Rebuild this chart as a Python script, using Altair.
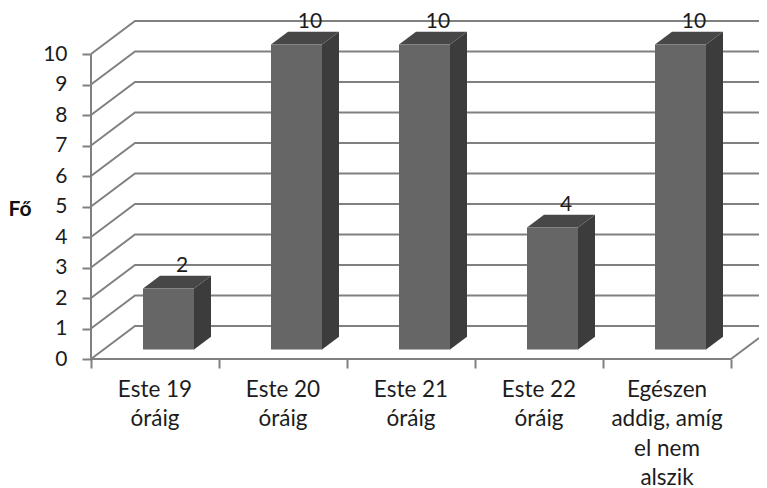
import altair as alt
import pandas as pd

categories = ["Este 19\nóráig", "Este 20\nóráig", "Este 21\nóráig", "Este 22\nóráig",
              "Egészen\naddig, amíg\nel nem\nalszik"]
values = [2, 10, 10, 4, 10]
y_ticks = list(range(0, 11))
x_ticks = list(range(0, 6))
value_labels = ["2", "10", "10", "4", "10"]
y_title = "Fő"

PX_X, PX_Y = 128.0, 30.5          # pixels per band / per unit
W, H = 668, 339
X_MAX, Y_MAX = W / PX_X, H / PX_Y
WALL_DX, WALL_DY = 44 / PX_X, 33 / PX_Y
BAR_X0, BAR_W = 52 / PX_X, 51 / PX_X
BAR_DX, BAR_DY = 17 / PX_X, 12.7 / PX_Y
BASE = 9.6 / PX_Y
GRID, FRONT, SIDE, TOP, INK = "#808080", "#666666", "#3c3c3c", "#474747", "#1c1c1c"
FONT = "Lato"

xs = alt.Scale(domain=[0, X_MAX], nice=False, zero=False)
ys = alt.Scale(domain=[0, Y_MAX], nice=False, zero=False)
X = alt.X("x:Q", scale=xs, title=None,
          axis=alt.Axis(values=x_ticks, labels=False, domain=False, grid=False,
                        tickSize=9, tickColor=GRID, tickWidth=2))
Y = alt.Y("y:Q", scale=ys, title=None,
          axis=alt.Axis(values=y_ticks, format="d", domain=False, grid=False, tickSize=9,
                        tickColor=GRID, tickWidth=2, labelFont=FONT, labelFontSize=21,
                        labelColor=INK, labelPadding=15, labelOverlap=False))

grid_rows = []
for t in y_ticks:
    grid_rows += [dict(level=t, x=0, y=t),
                  dict(level=t, x=WALL_DX, y=t + WALL_DY),
                  dict(level=t, x=X_MAX, y=t + WALL_DY)]
grid = alt.Chart(pd.DataFrame(grid_rows)).mark_line(color=GRID, strokeWidth=2).encode(x=X, y=Y, detail="level:N")

frame_rows = [dict(seg="left", x=0, y=0), dict(seg="left", x=0, y=10),
              dict(seg="floor", x=0, y=0), dict(seg="floor", x=5, y=0),
              dict(seg="edge", x=5, y=0),
              dict(seg="edge", x=X_MAX, y=(X_MAX - 5) * WALL_DY / WALL_DX)]
frame = alt.Chart(pd.DataFrame(frame_rows)).mark_line(color=GRID, strokeWidth=2).encode(
    x=X, y=Y, detail="seg:N", order=alt.Order("y:Q"))

front_rows, side_rows, top_rows, label_rows, cat_rows = [], [], [], [], []
for i, (c, v, lab) in enumerate(zip(categories, values, value_labels)):
    x0 = i + BAR_X0
    x1 = x0 + BAR_W
    b = BASE
    t = v + BASE
    front_rows.append(dict(x=x0, x2=x1, y=b, y2=t))
    side_rows += [dict(bar=i, x=x1, y=b, y2=t),
                  dict(bar=i, x=x1 + BAR_DX, y=b + BAR_DY, y2=t + BAR_DY)]
    top_rows += [dict(bar=i, x=x0, y=t, y2=t),
                 dict(bar=i, x=x0 + BAR_DX, y=t, y2=t + BAR_DY),
                 dict(bar=i, x=x1, y=t, y2=t + BAR_DY),
                 dict(bar=i, x=x1 + BAR_DX, y=t + BAR_DY, y2=t + BAR_DY)]
    label_rows.append(dict(x=x0 + BAR_W / 2 + 13.5 / PX_X, y=t + 22.5 / PX_Y, t=lab))
    cat_rows.append(dict(x=i + 0.5, y=-19.5 / PX_Y, t=c))

front = alt.Chart(pd.DataFrame(front_rows)).mark_rect(color=FRONT).encode(x=X, x2="x2:Q", y=Y, y2="y2:Q")
side = alt.Chart(pd.DataFrame(side_rows)).mark_area(color=SIDE).encode(x=X, y=Y, y2="y2:Q", detail="bar:N")
top = alt.Chart(pd.DataFrame(top_rows)).mark_area(color=TOP).encode(x=X, y=Y, y2="y2:Q", detail="bar:N")

labels = alt.Chart(pd.DataFrame(label_rows)).mark_text(font=FONT, fontSize=21, color=INK, baseline="middle").encode(
    x=X, y=Y, text="t:N")
cats = alt.Chart(pd.DataFrame(cat_rows)).mark_text(font=FONT, fontSize=22.5, color=INK, baseline="top",
                                                   lineBreak="\n", lineHeight=29.5, align="center").encode(
    x=X, y=Y, text="t:N")
title = alt.Chart(pd.DataFrame([dict(x=-71 / PX_X, y=149.5 / PX_Y, t=y_title)])).mark_text(
    font=FONT, fontSize=21, fontWeight="bold", color="#111111", baseline="middle").encode(x=X, y=Y, text="t:N")

chart = alt.layer(grid, frame, side, top, front, labels, cats, title).properties(
    width=W, height=H, autosize=alt.AutoSizeParams(type="none"),
    padding={"left": 83, "top": 12, "right": 0, "bottom": 129}
).configure_view(stroke=None)

chart.save("out.html", embed_options={"renderer": "svg", "actions": False})
